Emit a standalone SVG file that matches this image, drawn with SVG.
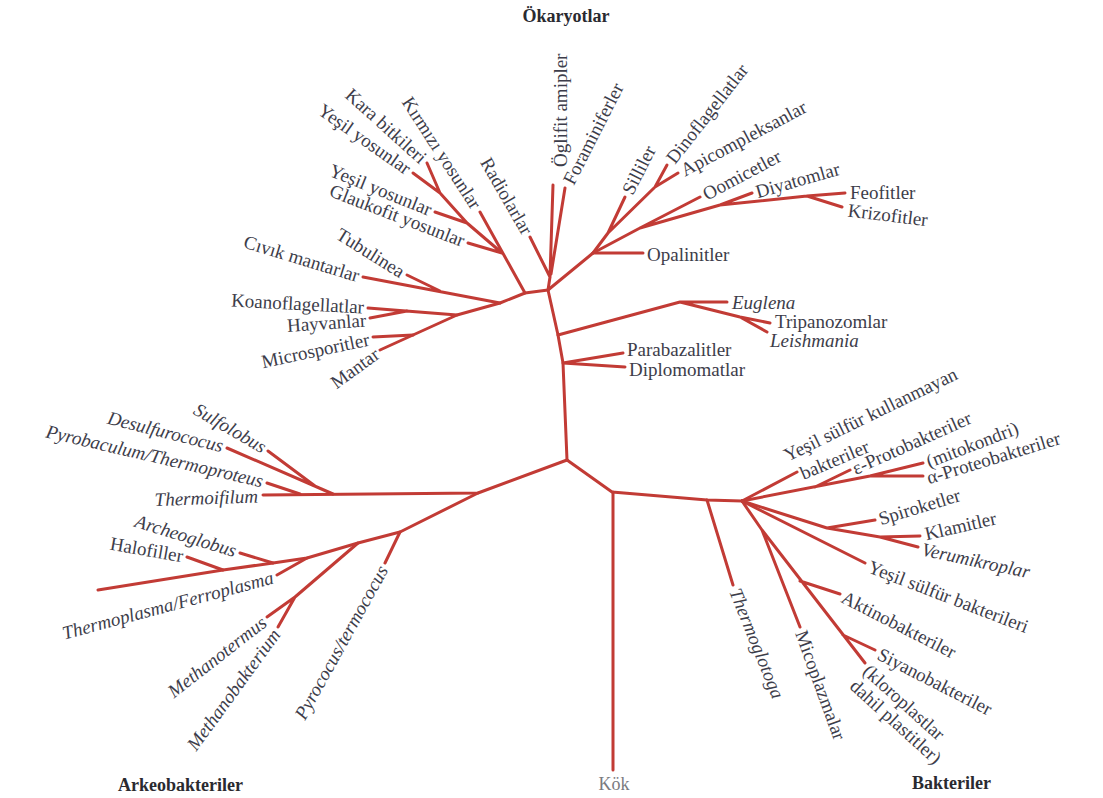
<svg xmlns="http://www.w3.org/2000/svg" width="1103" height="798" viewBox="0 0 1103 798">
<style>
.l{fill:none;stroke:#c23b35;stroke-width:3;stroke-linecap:round;stroke-linejoin:round}
text{font-family:"Liberation Serif","Times New Roman",serif;font-size:19px;fill:#3d3d4a}
.c{dominant-baseline:central}
.e{text-anchor:end}
.i{font-style:italic}
.t{font-family:"Liberation Serif","Times New Roman",serif;font-weight:bold;font-size:18px;fill:#2a2a30}
.k{font-family:"Liberation Serif","Times New Roman",serif;fill:#7a7a80;font-size:18px}
</style>
<rect width="1103" height="798" fill="#ffffff"/>
<g id="connectors">
<path class="l" d="M567,460 L563,363 L558,335 L548,290"/>
<path class="l" d="M563,363 L623,353 M563,363 L625,367"/>
<path class="l" d="M558,335 L680,302 L727,302 M680,302 L740,317 L770,323 M740,317 L767,332"/>
<path class="l" d="M548,290 L525,293 L500,303 L457,315 L380,350"/>
<path class="l" d="M525,293 L480,212"/>
<path class="l" d="M502,253 L467,223 L440,193 L427,163 M440,193 L413,173 M467,223 L435,212 M502,253 L468,243"/>
<path class="l" d="M500,303 L363,277 M440,291 L407,275"/>
<path class="l" d="M457,315 L368,308 M407,311 L370,318 M413,335 L373,337"/>
<path class="l" d="M530,237 L550,277 M553,185 L550,277 L548,290 M565,188 L551,274"/>
<path class="l" d="M548,290 L593,253 L643,253"/>
<path class="l" d="M593,253 L608,233 L625,197 M608,233 L655,187 L667,165 M655,187 L678,173"/>
<path class="l" d="M593,253 L640,228 L700,197 M640,228 L720,205 L752,193 M720,205 L807,196 L845,193 M807,196 L842,207"/>
<path class="l" d="M567,460 L478,493 L263,495"/>
<path class="l" d="M333,494 L227,448 M315,486 L268,451 M300,494 L267,483"/>
<path class="l" d="M478,493 L400,532 L385,563"/>
<path class="l" d="M400,532 L358,543 L307,558 L273,563 L223,570 L98,590"/>
<path class="l" d="M358,543 L295,597 L267,617 M295,597 L278,627"/>
<path class="l" d="M307,558 L277,575 M273,563 L240,553 M223,570 L187,557"/>
<path class="l" d="M567,460 L612,492 L707,500 L742,501"/>
<path class="l" d="M613,492 L613,770"/>
<path class="l" d="M707,500 L733,585"/>
<path class="l" d="M742,501 L797,472"/>
<path class="l" d="M742,501 L870,476 L923,463 M870,476 L923,476 M815,487 L850,470"/>
<path class="l" d="M742,501 L827,528 L875,520 M827,528 L880,537 L920,536 M880,537 L918,547"/>
<path class="l" d="M742,501 L865,563"/>
<path class="l" d="M742,501 L762,530 L800,627 M762,530 L865,663 M800,581 L840,594 M843,635 L875,650"/>
</g>
<g id="titles">
<text class="t" x="566" y="22" text-anchor="middle">Ökaryotlar</text>
<text class="t" x="118" y="791">Arkeobakteriler</text>
<text class="t" x="912" y="789">Bakteriler</text>
<text class="k" x="614" y="790" text-anchor="middle">Kök</text>
</g>
<g id="eukaryotes">
<g id="n-kara"><text class="c e" transform="translate(424,160) rotate(42)">Kara bitkileri</text></g>
<g id="n-yesil1"><text class="c e" transform="translate(409,170) rotate(35)">Yeşil yosunlar</text></g>
<g id="n-kirmizi"><text class="c e" transform="translate(477,207) rotate(57)">Kırmızı yosunlar</text></g>
<g id="n-yesil2"><text class="c e" transform="translate(431,210) rotate(22)">Yeşil yosunlar</text></g>
<g id="n-glauko"><text class="c e" transform="translate(464,241) rotate(21)">Glaukofit yosunlar</text></g>
<g id="n-radio"><text class="c e" transform="translate(528,233) rotate(60)">Radiolarlar</text></g>
<g id="n-tubu"><text class="c e" transform="translate(403,273) rotate(32)">Tubulinea</text></g>
<g id="n-civik"><text class="c e" transform="translate(359,276) rotate(17)">Cıvık mantarlar</text></g>
<g id="n-koano"><text class="c e" transform="translate(364,307) rotate(3)">Koanoflagellatlar</text></g>
<g id="n-hayvan"><text class="c e" transform="translate(366,320) rotate(-4)">Hayvanlar</text></g>
<g id="n-micro"><text class="c e" transform="translate(369,339) rotate(-12)">Microsporitler</text></g>
<g id="n-mantar"><text class="c e" transform="translate(377,352) rotate(-36)">Mantar</text></g>
<g id="n-oglifit"><text class="c" transform="translate(560,167) rotate(-90)">Öglifit amipler</text></g>
<g id="n-forami"><text class="c" transform="translate(568,183) rotate(-63)">Foraminiferler</text></g>
<g id="n-silli"><text class="c" transform="translate(627,193) rotate(-63)">Silliler</text></g>
<g id="n-dino"><text class="c" transform="translate(670,161) rotate(-52)">Dinoflagellatlar</text></g>
<g id="n-apico"><text class="c" transform="translate(682,171) rotate(-28)">Apicompleksanlar</text></g>
<g id="n-oomi"><text class="c" transform="translate(704,195) rotate(-28)">Oomicetler</text></g>
<g id="n-diya"><text class="c" transform="translate(756,192) rotate(-16)">Diyatomlar</text></g>
<g id="n-feo"><text class="c" transform="translate(850,192)">Feofitler</text></g>
<g id="n-krizo"><text class="c" transform="translate(848,210) rotate(7)">Krizofitler</text></g>
<g id="n-opal"><text class="c" transform="translate(647,254)">Opalinitler</text></g>
<g id="n-eugl"><text class="c i" transform="translate(732,302)">Euglena</text></g>
<g id="n-tripa"><text class="c" transform="translate(775,321)">Tripanozomlar</text></g>
<g id="n-leish"><text class="c i" transform="translate(770,340)">Leishmania</text></g>
<g id="n-parab"><text class="c" transform="translate(627,349)">Parabazalitler</text></g>
<g id="n-diplo"><text class="c" transform="translate(629,369)">Diplomomatlar</text></g>
</g>
<g id="archaea">
<g id="n-sulfo"><text class="c e i" transform="translate(265,448) rotate(30)">Sulfolobus</text></g>
<g id="n-desulf"><text class="c e i" transform="translate(223,446) rotate(14)">Desulfurococus</text></g>
<g id="n-pyrob"><text class="c e i" transform="translate(263,481) rotate(13)">Pyrobaculum/Thermoproteus</text></g>
<g id="n-thermoi"><text class="c e i" transform="translate(258,496) rotate(-2)">Thermoifilum</text></g>
<g id="n-archeo"><text class="c e i" transform="translate(236,551) rotate(17)">Archeoglobus</text></g>
<g id="n-halo"><text class="c e" transform="translate(183,556) rotate(10)">Halofiller</text></g>
<g id="n-thermop"><text class="c e i" transform="translate(273,577) rotate(-15)">Thermoplasma/Ferroplasma</text></g>
<g id="n-methanot"><text class="c e i" transform="translate(264,620) rotate(-38)">Methanotermus</text></g>
<g id="n-methanob"><text class="c e i" transform="translate(276,631) rotate(-54)">Methanobakterium</text></g>
<g id="n-pyroc"><text class="c e i" transform="translate(383,567) rotate(-61)">Pyrococus/termococus</text></g>
</g>
<g id="bacteria">
<g id="n-yesilsk"><text class="c" transform="translate(785,456) rotate(-26)">Yeşil sülfür kullanmayan</text><text class="c" transform="translate(801,474) rotate(-23)">bakteriler</text></g>
<g id="n-eps"><text class="c" transform="translate(853,469) rotate(-24)">ε-Protobakteriler</text></g>
<g id="n-mito"><text class="c" transform="translate(927,462) rotate(-21)">(mitokondri)</text></g>
<g id="n-alfa"><text class="c" transform="translate(927,478) rotate(-17)">α-Proteobakteriler</text></g>
<g id="n-spiro"><text class="c" transform="translate(879,519) rotate(-17)">Spiroketler</text></g>
<g id="n-klam"><text class="c" transform="translate(925,534) rotate(-13)">Klamitler</text></g>
<g id="n-veru"><text class="c i" transform="translate(922,549) rotate(12)">Verumikroplar</text></g>
<g id="n-yesilsb"><text class="c" transform="translate(869,566) rotate(21)">Yeşil sülfür bakterileri</text></g>
<g id="n-aktino"><text class="c" transform="translate(843,596) rotate(27)">Aktinobakteriler</text></g>
<g id="n-siyano"><text class="c" transform="translate(879,653) rotate(27)">Siyanobakteriler</text><text class="c" transform="translate(866,668) rotate(42)">(kloroplastlar</text><text class="c" transform="translate(853,683) rotate(42)">dahil plastitler)</text></g>
<g id="n-mico"><text class="c" transform="translate(801,631) rotate(70)">Micoplazmalar</text></g>
<g id="n-thermog"><text class="c i" transform="translate(735,589) rotate(68)">Thermoglotoga</text></g>
</g>
</svg>
